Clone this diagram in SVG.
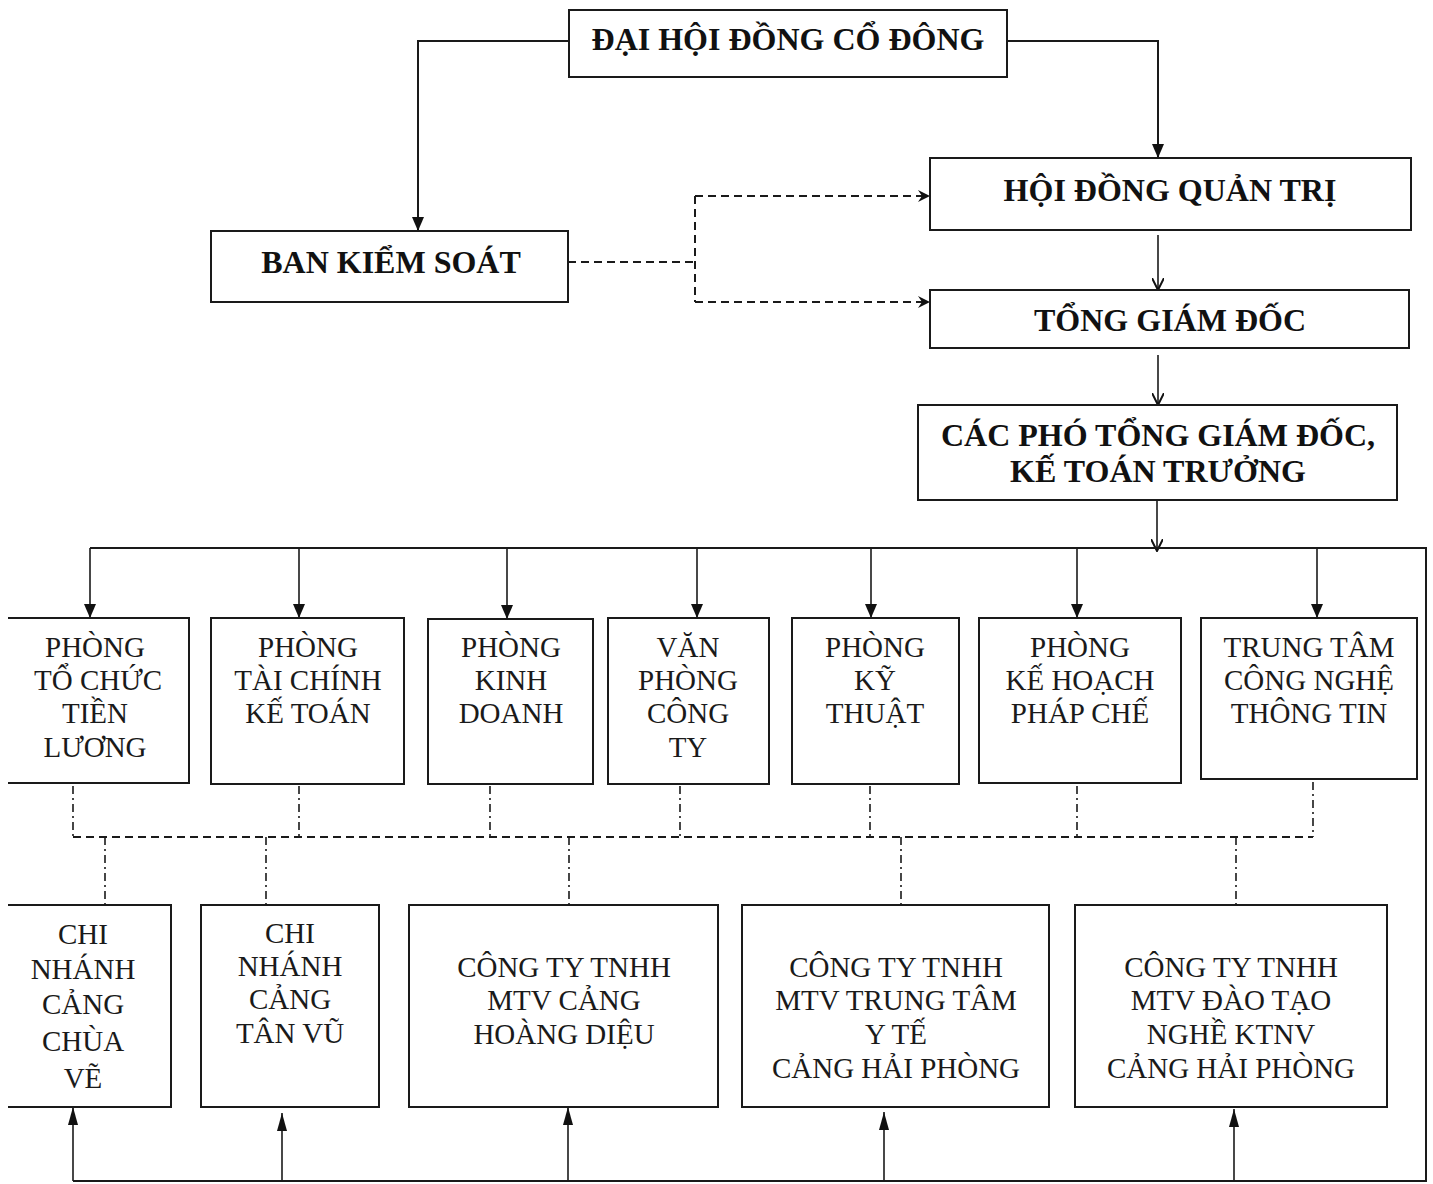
<svg xmlns="http://www.w3.org/2000/svg" width="1433" height="1184" viewBox="0 0 1433 1184">
<style>
.box{fill:#fff;stroke:#1a1a1a;stroke-width:2}
.b{font-family:"Liberation Serif","Times New Roman",serif;font-weight:bold;font-size:32px;fill:#111;text-anchor:middle}
.t{font-family:"Liberation Serif","Times New Roman",serif;font-size:29px;fill:#1a1a1a;text-anchor:middle}
.ln{fill:none;stroke:#1a1a1a;stroke-width:2}
.thin{fill:none;stroke:#1a1a1a;stroke-width:1.6}
.dash{fill:none;stroke:#1a1a1a;stroke-width:2;stroke-dasharray:8 5}
.dd{fill:none;stroke:#1a1a1a;stroke-width:1.6;stroke-dasharray:8 4 2 4}
</style>
<defs>
<marker id="af" viewBox="0 0 14 12" refX="14" refY="6" markerWidth="14" markerHeight="12" markerUnits="userSpaceOnUse" orient="auto"><path d="M0,0 L14,6 L0,12 z" fill="#111"/></marker>
<marker id="au" viewBox="0 0 18 10" refX="18" refY="5" markerWidth="18" markerHeight="10" markerUnits="userSpaceOnUse" orient="auto"><path d="M0,0 L18,5 L0,10 z" fill="#111"/></marker>
<marker id="ao" viewBox="0 0 13 12" refX="12" refY="6" markerWidth="13" markerHeight="12" markerUnits="userSpaceOnUse" orient="auto"><path d="M0,0 L12,6 L0,12" fill="none" stroke="#111" stroke-width="2"/></marker>
<marker id="ad" viewBox="0 0 12 12" refX="12" refY="6" markerWidth="12" markerHeight="12" markerUnits="userSpaceOnUse" orient="auto"><path d="M0,0 L12,6 L0,12 L4,6 z" fill="#111"/></marker>
</defs>
<rect width="1433" height="1184" fill="#fff"/>
<g id="connectors">
<path class="ln" d="M569,41 H418 V231" marker-end="url(#af)"/>
<path class="ln" d="M1007,41 H1158 V158" marker-end="url(#af)"/>
<path class="thin" d="M1158,235 V290" marker-end="url(#ao)"/>
<path class="thin" d="M1158,355 V405" marker-end="url(#ao)"/>
<path class="thin" d="M1157,500 V551" marker-end="url(#ao)"/>
<path class="ln" d="M90,548 H1426 V1181 H73"/>
<path class="thin" d="M90,548 V618" marker-end="url(#af)"/>
<path class="thin" d="M299,548 V618" marker-end="url(#af)"/>
<path class="thin" d="M507,548 V619" marker-end="url(#af)"/>
<path class="thin" d="M697,548 V618" marker-end="url(#af)"/>
<path class="thin" d="M871,548 V618" marker-end="url(#af)"/>
<path class="thin" d="M1077,548 V618" marker-end="url(#af)"/>
<path class="thin" d="M1317,548 V618" marker-end="url(#af)"/>
<path class="thin" d="M73,1181 V1107" marker-end="url(#au)"/>
<path class="thin" d="M282,1181 V1113" marker-end="url(#au)"/>
<path class="thin" d="M568,1181 V1107" marker-end="url(#au)"/>
<path class="thin" d="M884,1181 V1112" marker-end="url(#au)"/>
<path class="thin" d="M1234,1181 V1109" marker-end="url(#au)"/>
<path class="dash" d="M568,262 H695"/>
<path class="dash" d="M695,196 V302"/>
<path class="dash" d="M695,196 H930" marker-end="url(#ad)"/>
<path class="dash" d="M695,302 H930" marker-end="url(#ad)"/>
<path class="dash" d="M73,837 H1313"/>
<path class="dd" d="M73,786 V837"/>
<path class="dd" d="M299,786 V837"/>
<path class="dd" d="M490,786 V837"/>
<path class="dd" d="M680,786 V837"/>
<path class="dd" d="M870,786 V837"/>
<path class="dd" d="M1077,786 V837"/>
<path class="dd" d="M1313,782 V837"/>
<path class="dd" d="M105,837 V905"/>
<path class="dd" d="M266,837 V905"/>
<path class="dd" d="M569,837 V905"/>
<path class="dd" d="M901,837 V905"/>
<path class="dd" d="M1236,837 V905"/>
</g>
<g id="dhdcd"><rect class="box" x="569" y="10" width="438" height="67"/><text class="b" x="788" y="50">ĐẠI HỘI ĐỒNG CỔ ĐÔNG</text></g>
<g id="bks"><rect class="box" x="211" y="231" width="357" height="71"/><text class="b" x="391" y="273">BAN KIỂM SOÁT</text></g>
<g id="hdqt"><rect class="box" x="930" y="158" width="481" height="72"/><text class="b" x="1170" y="201">HỘI ĐỒNG QUẢN TRỊ</text></g>
<g id="tgd"><rect class="box" x="930" y="290" width="479" height="58"/><text class="b" x="1170" y="331">TỔNG GIÁM ĐỐC</text></g>
<g id="cacpho"><rect class="box" x="918" y="405" width="479" height="95"/><text class="b" x="1158" y="446">CÁC PHÓ TỔNG GIÁM ĐỐC,</text><text class="b" x="1158" y="482">KẾ TOÁN TRƯỞNG</text></g>
<g id="p1"><path class="box" d="M8,618 H189 V783 H8"/><text class="t" x="95" y="657">PHÒNG</text><text class="t" x="98" y="690">TỔ CHỨC</text><text class="t" x="95" y="723">TIỀN</text><text class="t" x="95" y="757">LƯƠNG</text></g>
<g id="p2"><rect class="box" x="211" y="618" width="193" height="166"/><text class="t" x="308" y="657">PHÒNG</text><text class="t" x="308" y="690">TÀI CHÍNH</text><text class="t" x="308" y="723">KẾ TOÁN</text></g>
<g id="p3"><rect class="box" x="428" y="619" width="165" height="165"/><text class="t" x="511" y="657">PHÒNG</text><text class="t" x="511" y="690">KINH</text><text class="t" x="511" y="723">DOANH</text></g>
<g id="p4"><rect class="box" x="608" y="618" width="161" height="166"/><text class="t" x="688" y="657">VĂN</text><text class="t" x="688" y="690">PHÒNG</text><text class="t" x="688" y="723">CÔNG</text><text class="t" x="688" y="757">TY</text></g>
<g id="p5"><rect class="box" x="792" y="618" width="167" height="166"/><text class="t" x="875" y="657">PHÒNG</text><text class="t" x="875" y="690">KỸ</text><text class="t" x="875" y="723">THUẬT</text></g>
<g id="p6"><rect class="box" x="979" y="618" width="202" height="165"/><text class="t" x="1080" y="657">PHÒNG</text><text class="t" x="1080" y="690">KẾ HOẠCH</text><text class="t" x="1080" y="723">PHÁP CHẾ</text></g>
<g id="p7"><rect class="box" x="1201" y="618" width="216" height="161"/><text class="t" x="1309" y="657">TRUNG TÂM</text><text class="t" x="1309" y="690">CÔNG NGHỆ</text><text class="t" x="1309" y="723">THÔNG TIN</text></g>
<g id="c1"><path class="box" d="M8,905 H171 V1107 H8"/><text class="t" x="83" y="944">CHI</text><text class="t" x="83" y="979">NHÁNH</text><text class="t" x="83" y="1014">CẢNG</text><text class="t" x="83" y="1051">CHÙA</text><text class="t" x="83" y="1088">VẼ</text></g>
<g id="c2"><rect class="box" x="201" y="905" width="178" height="202"/><text class="t" x="290" y="943">CHI</text><text class="t" x="290" y="976">NHÁNH</text><text class="t" x="290" y="1009">CẢNG</text><text class="t" x="290" y="1043">TÂN VŨ</text></g>
<g id="c3"><rect class="box" x="409" y="905" width="309" height="202"/><text class="t" x="564" y="977">CÔNG TY TNHH</text><text class="t" x="564" y="1010">MTV CẢNG</text><text class="t" x="564" y="1044">HOÀNG DIỆU</text></g>
<g id="c4"><rect class="box" x="742" y="905" width="307" height="202"/><text class="t" x="896" y="977">CÔNG TY TNHH</text><text class="t" x="896" y="1010">MTV TRUNG TÂM</text><text class="t" x="896" y="1044">Y TẾ</text><text class="t" x="896" y="1078">CẢNG HẢI PHÒNG</text></g>
<g id="c5"><rect class="box" x="1075" y="905" width="312" height="202"/><text class="t" x="1231" y="977">CÔNG TY TNHH</text><text class="t" x="1231" y="1010">MTV ĐÀO TẠO</text><text class="t" x="1231" y="1044">NGHỀ KTNV</text><text class="t" x="1231" y="1078">CẢNG HẢI PHÒNG</text></g>
</svg>
